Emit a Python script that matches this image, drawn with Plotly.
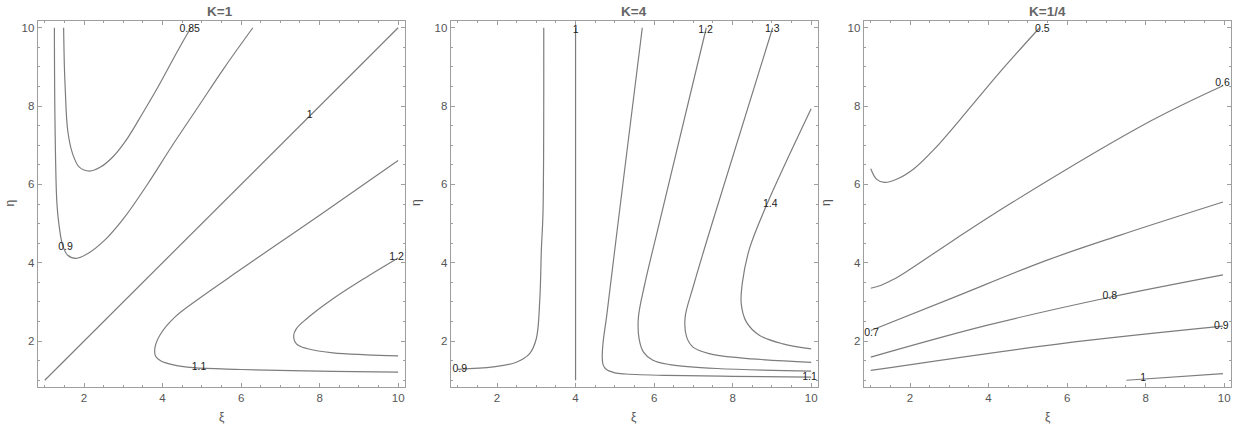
import plotly.graph_objects as go

W, H = 1239, 429

# ---------------- K = 1 ----------------
k1_085_x = [1.48, 1.50, 1.52, 1.585, 1.71, 1.88, 2.14, 2.43, 2.75, 3.10, 3.50, 3.88, 4.39, 4.72]
k1_085_y = [10.0, 9.0, 8.48, 7.37, 6.78, 6.44, 6.34, 6.45, 6.72, 7.17, 7.83, 8.48, 9.42, 10.0]
k1_09_x = [1.245, 1.26, 1.31, 1.37, 1.457, 1.585, 1.80, 2.09, 2.52, 3.03, 3.62, 4.22, 4.90, 5.58, 6.30]
k1_09_y = [10.0, 7.63, 5.50, 4.91, 4.44, 4.19, 4.11, 4.23, 4.57, 5.16, 6.01, 6.95, 7.97, 8.99, 10.0]
k1_1_x = [1.0, 10.0]
k1_1_y = [1.0, 10.0]
k1_11_x = [10.0, 8.0, 6.93, 5.95, 4.95, 4.30, 3.95, 3.81, 3.82, 3.95, 4.25, 4.78, 6.0, 8.34, 10.0]
k1_11_y = [6.61, 5.21, 4.48, 3.80, 3.10, 2.60, 2.18, 1.85, 1.62, 1.50, 1.40, 1.32, 1.275, 1.227, 1.21]
k1_12_x = [10.0, 9.19, 8.34, 7.67, 7.41, 7.34, 7.41, 7.67, 8.34, 9.19, 10.0]
k1_12_y = [4.12, 3.63, 3.08, 2.57, 2.32, 2.145, 1.93, 1.81, 1.70, 1.65, 1.62]
k1_label_text = ["0.85", "0.9", "1", "1.1", "1.2"]
k1_label_x = [4.69, 1.53, 7.75, 4.93, 9.96]
k1_label_y = [9.97, 4.38, 7.76, 1.32, 4.14]

# ---------------- K = 4 ----------------
k4_09_x = [1.0, 1.90, 2.49, 2.83, 3.00, 3.09, 3.13, 3.17, 3.19]
k4_09_y = [1.28, 1.34, 1.46, 1.68, 2.06, 3.08, 4.36, 5.25, 10.0]
k4_1_x = [4.0, 4.0]
k4_1_y = [1.0, 10.0]
k4_11_x = [5.70, 5.09, 4.80, 4.70, 4.68, 4.70, 4.78, 5.0, 5.29, 6.31, 8.0, 10.0]
k4_11_y = [10.0, 5.08, 2.70, 1.95, 1.60, 1.40, 1.28, 1.19, 1.16, 1.125, 1.10, 1.08]
k4_12_x = [7.33, 6.15, 5.75, 5.60, 5.62, 5.73, 5.97, 6.40, 7.60, 10.0]
k4_12_y = [10.0, 5.08, 3.40, 2.60, 2.05, 1.72, 1.51, 1.40, 1.30, 1.235]
k4_13_x = [9.02, 7.50, 7.00, 6.79, 6.83, 7.00, 7.40, 8.20, 10.0]
k4_13_y = [10.0, 5.08, 3.40, 2.60, 2.10, 1.84, 1.68, 1.57, 1.455]
k4_14_x = [10.0, 8.86, 8.43, 8.25, 8.22, 8.35, 8.68, 9.28, 10.0]
k4_14_y = [7.93, 5.46, 4.36, 3.50, 2.95, 2.49, 2.15, 1.93, 1.80]
k4_label_text = ["0.9", "1", "1.1", "1.2", "1.3", "1.4"]
k4_label_x = [1.05, 4.0, 9.96, 7.31, 9.01, 8.96]
k4_label_y = [1.28, 9.94, 1.08, 9.93, 9.97, 5.49]

# ---------------- K = 1/4 ----------------
kq_05_x = [1.0, 1.15, 1.355, 1.70, 2.10, 2.60, 3.27, 4.30, 5.30]
kq_05_y = [6.40, 6.13, 6.05, 6.15, 6.40, 6.88, 7.65, 8.88, 10.0]
kq_06_x = [1.0, 1.25, 1.57, 1.95, 3.10, 4.62, 8.15, 9.97]
kq_06_y = [3.35, 3.42, 3.57, 3.80, 4.57, 5.55, 7.63, 8.52]
kq_07_x = [1.0, 3.10, 5.475, 7.34, 9.97]
kq_07_y = [2.27, 3.11, 4.06, 4.70, 5.55]
kq_08_x = [1.0, 3.95, 7.09, 9.97]
kq_08_y = [1.59, 2.40, 3.12, 3.69]
kq_09_x = [1.0, 5.81, 9.97]
kq_09_y = [1.25, 1.93, 2.38]
kq_1_x = [7.51, 9.97]
kq_1_y = [1.0, 1.17]
kq_label_text = ["0.5", "0.6", "0.7", "0.8", "0.9", "1"]
kq_label_x = [5.37, 9.96, 1.02, 7.09, 9.93, 7.94]
kq_label_y = [9.97, 8.57, 2.20, 3.14, 2.38, 1.04]

titles = ["K=1", "K=4", "K=1/4"]
x_title = "ξ"
y_title = "η"

panels = [
    dict(curves=[(k1_085_x, k1_085_y), (k1_09_x, k1_09_y), (k1_1_x, k1_1_y),
                 (k1_11_x, k1_11_y), (k1_12_x, k1_12_y)],
         labels=(k1_label_text, k1_label_x, k1_label_y)),
    dict(curves=[(k4_09_x, k4_09_y), (k4_1_x, k4_1_y), (k4_11_x, k4_11_y),
                 (k4_12_x, k4_12_y), (k4_13_x, k4_13_y), (k4_14_x, k4_14_y)],
         labels=(k4_label_text, k4_label_x, k4_label_y)),
    dict(curves=[(kq_05_x, kq_05_y), (kq_06_x, kq_06_y), (kq_07_x, kq_07_y),
                 (kq_08_x, kq_08_y), (kq_09_x, kq_09_y), (kq_1_x, kq_1_y)],
         labels=(kq_label_text, kq_label_x, kq_label_y)),
]

# layout geometry (pixels)
plot_left = [37.7, 450.7, 863.7]
plot_width = 367.5
plot_top, plot_bottom = 20.7, 387.3
title_px = [220, 634, 1047]
xlab_px = [221.7, 634, 1047.7]
ylab_px = [9.5, 416, 826]

FONT = "Liberation Sans, Arial, sans-serif"
FRAME = "#9e9e9e"
LINE = "#7d7d7d"
TXT = "#555555"

fig = go.Figure()
layout = dict(width=W, height=H, margin=dict(l=0, r=0, t=0, b=0),
              paper_bgcolor="white", plot_bgcolor="white", showlegend=False,
              font=dict(family=FONT))
annotations = []

for i, p in enumerate(panels):
    sfx = "" if i == 0 else str(i + 1)
    xa, ya = "x" + sfx, "y" + sfx
    for cx, cy in p["curves"]:
        fig.add_trace(go.Scatter(x=cx, y=cy, mode="lines", xaxis=xa, yaxis=ya,
                                 line=dict(color=LINE, width=1.2, shape="spline", smoothing=1.0),
                                 hoverinfo="skip"))
    t, lx, ly = p["labels"]
    fig.add_trace(go.Scatter(x=lx, y=ly, text=t, mode="text", xaxis=xa, yaxis=ya,
                             textposition="middle center", cliponaxis=False,
                             textfont=dict(family=FONT, size=10.5, color="#222"),
                             hoverinfo="skip"))
    d0 = plot_left[i] / W
    d1 = (plot_left[i] + plot_width) / W
    common = dict(range=[0.82, 10.18], showgrid=False, zeroline=False, showline=True,
                  linecolor=FRAME, linewidth=1, mirror="ticks", ticks="inside",
                  ticklen=4, tickwidth=1, tickcolor=FRAME, tick0=0, dtick=2,
                  tickfont=dict(family=FONT, size=11.5, color=TXT),
                  minor=dict(ticks="inside", ticklen=2.5, tickwidth=1, tickcolor=FRAME,
                             tick0=0, dtick=0.5))
    layout["xaxis" + sfx] = dict(common, domain=[d0, d1], anchor=ya)
    layout["yaxis" + sfx] = dict(common, domain=[1 - plot_bottom / H, 1 - plot_top / H], anchor=xa)
    annotations.append(dict(text="<b>" + titles[i] + "</b>", x=title_px[i] / W, y=1 - 11 / H,
                            xref="paper", yref="paper",
                            showarrow=False, xanchor="center", yanchor="middle",
                            font=dict(family=FONT, size=13.5, color="#666")))
    annotations.append(dict(text=x_title, x=xlab_px[i] / W, y=1 - 416.7 / H, xref="paper", yref="paper",
                            showarrow=False, xanchor="center", yanchor="middle",
                            font=dict(family=FONT, size=12, color="#555")))
    annotations.append(dict(text=y_title, x=ylab_px[i] / W, y=1 - 203 / H, xref="paper", yref="paper",
                            showarrow=False, xanchor="center", yanchor="middle", textangle=-90,
                            font=dict(family=FONT, size=12, color="#555")))

layout["annotations"] = annotations
fig.update_layout(**layout)
fig.write_html("out.html")
